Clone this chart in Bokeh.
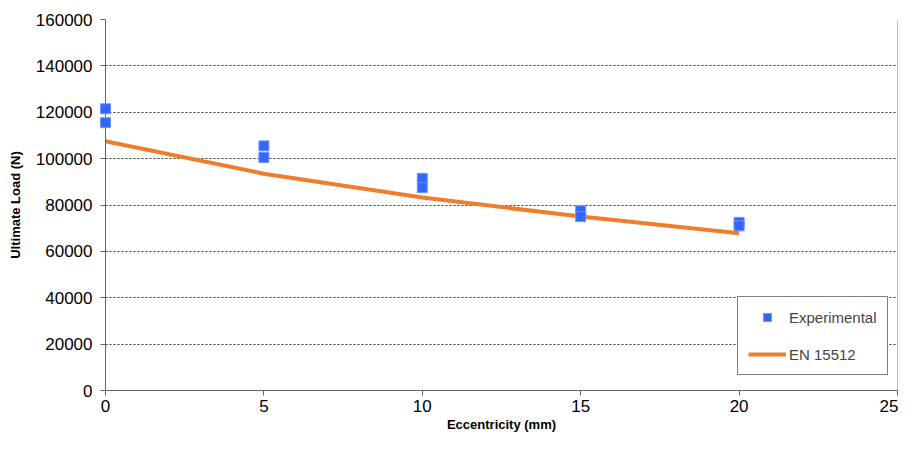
from bokeh.plotting import figure
from bokeh.models import Range1d, FixedTicker, BasicTickFormatter, Legend, LegendItem, Span
from bokeh.embed import file_html
from bokeh.resources import INLINE

# Data
exp_ecc = [0, 0, 5, 5, 10, 10, 15, 15, 20, 20]
exp_load = [121500, 115500, 105500, 100500, 91500, 87500, 77500, 75000, 72500, 71000]
en_ecc = [0, 5, 10, 15, 20]
en_load = [107500, 93500, 83200, 75000, 67800]
x_ticks = [0, 5, 10, 15, 20, 25]
y_ticks = [0, 20000, 40000, 60000, 80000, 100000, 120000, 140000, 160000]

BLUE = "#3366ff"
ORANGE = "#f07d2b"
FONT = "Liberation Sans"

p = figure(width=898, height=435, output_backend="svg", toolbar_location=None,
           x_range=Range1d(0, 25), y_range=Range1d(0, 160000),
           min_border_left=105, min_border_right=1, min_border_top=19, min_border_bottom=45)
p.outline_line_color = None
p.background_fill_color = "white"
p.border_fill_color = "white"

p.xgrid.grid_line_color = None
p.ygrid.grid_line_color = "#333333"
p.ygrid.grid_line_dash = "2 2"
p.ygrid.grid_line_width = 1

for ax in (p.xaxis[0], p.yaxis[0]):
    ax.axis_line_color = "#666666"
    ax.major_tick_line_color = "#666666"
    ax.major_tick_in = 0
    ax.major_tick_out = 5
    ax.minor_tick_line_color = None
    ax.major_label_text_font = FONT
    ax.major_label_text_font_size = "17px"
    ax.major_label_text_color = "black"
    ax.axis_label_text_font = FONT
    ax.axis_label_text_font_size = "13px"
    ax.axis_label_text_font_style = "bold"
    ax.axis_label_text_color = "black"

p.xaxis.ticker = FixedTicker(ticks=x_ticks)
p.yaxis.ticker = FixedTicker(ticks=y_ticks)
p.yaxis.formatter = BasicTickFormatter(use_scientific=False)
p.xaxis.axis_label = "Eccentricity (mm)"
p.yaxis.axis_label = "Ultimate Load (N)"
p.xaxis.axis_label_standoff = 2
p.yaxis.axis_label_standoff = 10
p.xaxis.major_label_standoff = 4
p.yaxis.major_label_standoff = 8

p.add_layout(Span(location=25, dimension="height", line_color="#888888", line_width=1))

r_line = p.line(en_ecc, en_load, line_color=ORANGE, line_width=4)
r_sq = p.scatter(exp_ecc, exp_load, marker="square", size=10, fill_color=BLUE,
                 line_color="#6f94ff", line_width=1, level="overlay")

legend = Legend(items=[LegendItem(label="Experimental", renderers=[r_sq]),
                       LegendItem(label="EN 15512", renderers=[r_line])],
                location=(632, 15))
legend.border_line_color = "black"
legend.border_line_width = 1
legend.background_fill_color = "white"
legend.background_fill_alpha = 1
legend.label_text_font = FONT
legend.label_text_font_size = "15px"
legend.glyph_width = 38
legend.glyph_height = 20
legend.label_standoff = 3
legend.spacing = 17
legend.padding = 10
legend.margin = 0
p.add_layout(legend, "center")

open("out.html", "w").write(file_html(p, INLINE))
